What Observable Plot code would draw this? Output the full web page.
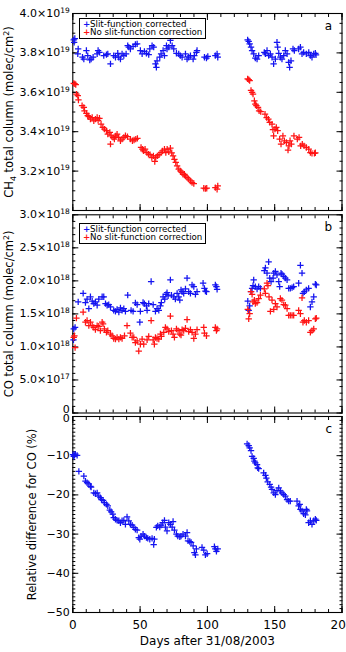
<!DOCTYPE html>
<html><head><meta charset="utf-8">
<script src="https://cdn.jsdelivr.net/npm/d3@7"></script>
<script src="https://cdn.jsdelivr.net/npm/@observablehq/plot@0.6"></script>
<style>
body{margin:0;background:#fff;}
#chart{position:relative;width:346px;height:652px;overflow:hidden;font-family:"DejaVu Sans",sans-serif;background:#fff;}
#chart svg{position:absolute;left:0;overflow:visible;}
.legend{position:absolute;border:1px solid #000;background:#fff;font-size:8.7px;line-height:8.6px;padding:0.5px 2px 1px 3px;white-space:nowrap;color:#000;}
.legend span{display:inline-block;width:7px;font-weight:bold;}
</style></head>
<body><div id="chart"></div>
<script>
// ---------- data ----------
const seriesNames = ["Slit-function corrected", "No slit-function correction"];
const xLabel = "Days after 31/08/2003";
const xMajor = [0, 50, 100, 150, 200];
const CH4_UNIT = 1e19, CO_UNIT = 1e18;

// Panel a: CH4 total column (units of 1e19 molec/cm2)
const ch4CorrDays = [0.7,1.5,1.0,3.7,4.0,7.2,8.2,10.1,11.1,12.6,13.6,15.1,18.1,18.8,19.8,23.0,25.0,26.0,28.0,30.4,31.7,33.4,34.1,35.4,36.6,37.9,39.6,40.8,41.6,42.8,44.8,46.5,47.8,50.2,51.5,53.2,54.7,56.4,57.2,58.9,60.1,61.4,62.1,62.6,64.6,65.6,67.1,68.1,69.6,70.0,71.3,72.5,73.8,75.0,77.0,78.7,79.9,81.2,83.7,84.9,86.1,87.4,89.4,90.3,91.8,92.3,97.8,99.3,100.3,105.9,107.2,107.7,
 129.9,130.7,131.4,132.4,133.2,134.4,135.6,136.9,138.1,142.3,143.1,144.3,145.5,146.8,148.0,149.2,150.5,151.7,152.2,153.0,154.2,155.4,156.7,157.9,159.2,160.4,161.1,162.1,163.6,164.6,167.8,169.1,170.3,171.5,173.5,175.3,176.5,177.7,179.0,180.2,180.7];
const ch4CorrValues = [3.866,3.873,3.854,3.795,3.82,3.778,3.769,3.812,3.786,3.764,3.769,3.778,3.795,3.812,3.803,3.786,3.791,3.795,3.744,3.786,3.778,3.798,3.778,3.769,3.795,3.786,3.795,3.837,3.829,3.820,3.833,3.843,3.846,3.812,3.795,3.808,3.798,3.791,3.82,3.837,3.829,3.744,3.727,3.76,3.778,3.795,3.812,3.786,3.837,3.82,3.829,3.863,3.837,3.82,3.798,3.795,3.786,3.778,3.795,3.769,3.778,3.786,3.769,3.786,3.803,3.812,3.778,3.774,3.782,3.786,3.795,3.778,
 3.866,3.858,3.846,3.829,3.812,3.795,3.774,3.769,3.786,3.803,3.795,3.812,3.786,3.795,3.778,3.744,3.769,3.854,3.829,3.798,3.778,3.769,3.786,3.812,3.795,3.752,3.727,3.76,3.82,3.812,3.82,3.829,3.795,3.803,3.795,3.803,3.786,3.778,3.795,3.798,3.79];
const ch4NoCorrDays = [0.7,1.5,2.2,2.7,3.7,4.2,6.9,8.2,8.7,10.1,11.1,11.9,13.1,14.4,15.6,16.8,18.1,18.8,19.8,21.0,22.3,23.5,25.0,26.0,27.5,28.0,28.5,29.9,30.9,31.9,32.9,34.1,35.4,36.6,37.9,39.1,40.6,42.8,44.3,45.5,46.8,48.0,50.7,51.7,52.5,53.7,55.0,56.2,57.4,58.7,59.9,60.9,61.6,62.8,64.1,65.6,66.6,68.1,69.1,70.1,71.3,72.5,73.5,74.5,75.5,76.5,77.5,78.7,79.9,81.0,81.9,82.9,83.7,84.9,86.1,87.4,88.6,89.9,97.3,98.5,99.5,105.9,107.2,107.7,
 129.9,130.7,131.4,132.4,133.2,133.9,134.9,135.6,136.4,137.6,138.4,139.6,142.8,144.0,145.3,146.3,148.0,148.7,149.2,150.2,151.2,152.2,153.7,154.7,156.1,157.2,158.7,159.9,160.6,161.4,162.4,164.3,166.8,168.1,169.3,170.5,171.8,173.5,175.3,176.5,177.7,179.5,180.2];
const ch4NoCorrValues = [3.645,3.643,3.639,3.591,3.583,3.561,3.532,3.523,3.506,3.493,3.481,3.476,3.464,3.472,3.455,3.464,3.472,3.458,3.468,3.438,3.422,3.413,3.405,3.388,3.396,3.337,3.379,3.371,3.362,3.379,3.388,3.371,3.354,3.362,3.371,3.38,3.375,3.362,3.354,3.358,3.362,3.366,3.320,3.311,3.303,3.311,3.294,3.286,3.283,3.269,3.277,3.249,3.269,3.277,3.283,3.294,3.303,3.311,3.294,3.311,3.298,3.316,3.293,3.277,3.260,3.244,3.227,3.210,3.201,3.193,3.184,3.184,3.176,3.167,3.159,3.150,3.142,3.137,3.113,3.111,3.113,3.116,3.108,3.125,
 3.668,3.664,3.659,3.610,3.600,3.591,3.557,3.540,3.532,3.523,3.506,3.502,3.489,3.472,3.464,3.447,3.438,3.410,3.379,3.413,3.422,3.405,3.362,3.337,3.379,3.354,3.345,3.307,3.328,3.354,3.337,3.379,3.362,3.371,3.328,3.337,3.328,3.320,3.311,3.294,3.290,3.290,3.293];

// Panel b: CO total column (units of 1e18 molec/cm2)
const coCorrDays = [0.7,1.7,0.5,4.0,7.7,9.4,10.6,11.9,13.1,14.4,15.6,16.8,18.1,19.3,21.8,23.0,24.3,25.5,26.7,28.0,30.4,31.7,32.9,34.2,35.4,36.6,37.9,39.1,40.8,43.3,44.8,46.5,47.8,49.8,50.2,52.2,53.2,54.7,55.2,56.4,58.2,59.7,61.4,62.6,63.9,65.1,65.8,67.1,68.3,69.3,70.0,70.8,72.5,73.3,75.0,76.2,77.5,78.7,79.5,80.4,81.2,82.4,83.7,84.9,86.1,87.4,88.6,89.9,91.1,92.3,96.8,97.8,98.5,99.3,105.9,106.7,107.2,
 130.0,130.7,131.4,132.4,133.2,133.9,134.4,135.6,136.9,138.1,139.4,142.3,143.1,144.3,145.5,146.3,147.3,148.8,149.3,150.5,151.7,153.0,153.7,154.7,155.4,156.7,157.9,159.2,160.4,161.6,162.9,164.1,167.8,169.1,170.3,171.0,172.0,173.5,175.2,176.5,177.7,179.0,180.2,180.9];
const coCorrValues = [1.272,1.297,1.108,1.682,1.810,1.672,1.723,1.579,1.759,1.692,1.656,1.682,1.631,1.723,1.759,1.759,1.656,1.631,1.641,1.605,1.554,1.538,1.569,1.528,1.590,1.554,1.579,1.538,1.785,1.554,1.538,1.667,1.641,1.374,1.538,1.672,1.656,1.621,1.554,1.656,1.990,1.641,1.538,1.579,1.554,1.621,1.672,1.759,1.723,1.795,1.821,1.774,2.015,1.785,1.759,1.723,1.810,1.759,1.708,1.862,1.836,1.810,1.877,2.041,1.836,1.810,1.938,1.913,1.795,1.836,1.964,1.887,1.846,1.836,1.938,1.913,1.872,
 1.692,1.554,1.621,1.836,1.887,1.928,2.015,1.913,1.877,1.913,1.887,2.154,2.195,2.118,2.287,2.041,1.990,2.041,2.118,2.144,2.092,1.990,1.913,2.118,2.103,2.067,2.041,2.015,1.887,1.887,1.897,1.913,1.964,2.236,2.118,1.810,1.836,1.862,1.887,1.605,1.682,1.759,1.949,1.938];
const coNoCorrDays = [0.7,1.2,1.7,2.7,7.7,9.4,10.6,11.9,13.1,14.4,15.6,16.8,18.1,19.3,20.5,21.8,22.5,23.5,25.0,26.0,28.0,29.2,30.4,31.7,32.9,34.2,35.4,36.6,38.4,40.3,42.8,44.1,45.3,46.5,47.8,49.0,50.2,51.5,52.7,55.2,56.4,58.2,59.7,60.6,61.4,62.6,63.9,65.1,65.8,67.6,68.8,70.0,71.3,72.5,73.3,74.5,75.5,77.0,78.2,79.5,80.4,81.2,82.4,83.7,84.9,86.1,87.4,88.6,89.9,91.1,92.3,97.3,97.8,99.3,105.9,106.7,107.2,
 130.0,130.7,131.4,132.4,133.2,133.9,134.9,135.6,136.9,138.1,139.4,142.3,143.1,144.3,145.0,145.8,146.8,148.0,149.3,150.5,151.7,154.2,155.4,156.7,157.9,159.2,160.4,161.6,162.9,164.1,167.8,169.1,170.3,171.0,172.0,173.5,175.2,176.5,177.7,179.0,180.2,180.9];
const coNoCorrValues = [1.144,1.169,0.990,1.436,1.528,1.374,1.400,1.323,1.374,1.323,1.297,1.262,1.323,1.313,1.246,1.374,1.349,1.272,1.221,1.246,1.195,1.169,1.128,1.118,1.144,1.118,1.144,1.128,1.169,1.323,1.210,1.144,1.144,1.067,1.092,0.938,1.041,1.118,1.041,1.108,1.159,1.400,1.108,1.041,1.144,1.128,1.118,1.195,1.159,1.221,1.297,1.272,1.231,1.467,1.246,1.195,1.144,1.272,1.246,1.195,1.179,1.262,1.246,1.282,1.415,1.231,1.262,1.221,1.128,1.195,1.262,1.297,1.210,1.169,1.297,1.246,1.272,
 1.569,1.426,1.503,1.836,1.795,1.682,1.708,1.656,1.672,1.733,1.785,1.877,1.810,1.964,1.928,1.759,1.538,1.708,1.569,1.656,1.605,1.733,1.708,1.641,1.631,1.579,1.477,1.477,1.477,1.477,1.554,1.503,1.744,1.374,1.400,1.374,1.400,1.221,1.246,1.272,1.426,1.436];

// Panel c: relative difference for CO (%)
const relDays = [0.2,0.7,1.2,1.9,3.2,4.5,8.2,9.4,10.6,11.9,13.1,13.6,15.6,16.8,18.1,19.3,20.5,21.3,22.5,23.5,25.0,26.0,27.5,28.5,29.7,30.4,31.7,32.9,34.2,35.4,36.6,37.9,39.1,40.3,41.6,42.8,44.1,45.3,46.5,47.8,49.0,49.8,50.7,52.2,53.2,54.7,55.7,57.2,58.9,60.1,60.6,62.1,63.1,64.6,65.6,66.8,68.1,68.8,70.0,71.3,72.5,73.8,74.5,75.5,77.0,78.0,79.5,80.4,81.9,83.7,84.9,85.6,86.9,87.9,89.4,90.3,91.1,91.8,96.0,97.3,98.5,99.8,105.2,105.9,106.7,107.7,
 129.5,130.7,131.4,132.4,133.2,134.4,134.9,135.6,136.9,137.4,138.1,141.8,143.1,143.8,144.8,146.3,147.3,148.0,149.3,150.5,151.7,153.0,154.2,155.4,156.7,157.9,159.2,160.4,161.6,166.6,167.8,168.6,169.1,170.3,171.5,172.8,173.5,174.0,175.2,176.5,177.7,179.0,180.2,180.9];
const relValues = [-9.7,-10.2,-9.9,-9.6,-9.9,-14.0,-15.2,-16.5,-16.9,-17.2,-17.8,-18.0,-19.5,-19.7,-19.5,-20.3,-20.7,-21.2,-21.4,-22.0,-22.4,-22.8,-23.9,-24.3,-24.9,-25.8,-26.2,-26.5,-26.6,-27.1,-26.6,-26.5,-27.5,-25.6,-26.6,-27.5,-27.7,-28.3,-28.8,-29.0,-30.9,-31.3,-30.5,-30.0,-30.5,-30.9,-31.1,-31.3,-31.1,-32.7,-31.3,-28.3,-27.9,-28.2,-27.7,-27.1,-26.5,-28.2,-29.2,-27.1,-27.5,-28.2,-26.8,-29.0,-30.0,-30.5,-30.7,-30.5,-30.0,-30.5,-29.6,-31.7,-31.9,-32.1,-33.0,-34.7,-35.3,-33.8,-33.4,-34.1,-35.3,-35.0,-33.2,-33.8,-34.4,-33.8,
 -7.0,-7.4,-8.0,-8.7,-10.2,-10.7,-11.4,-11.8,-12.3,-13.1,-13.3,-14.4,-15.0,-15.7,-16.7,-17.3,-18.0,-18.6,-19.5,-19.9,-18.9,-18.2,-19.0,-19.5,-19.9,-20.3,-21.2,-21.6,-21.6,-21.6,-22.8,-22.4,-23.7,-24.1,-24.8,-25.1,-23.7,-24.1,-27.1,-26.6,-27.5,-26.6,-26.2,-26.5];

// ---------- helpers ----------
const BLUE = "#1414f0", RED = "#ff1414";
const FONT = "DejaVu Sans, sans-serif";
const table = (days, vals, unit = 1) => days.map((d, i) => ({day: d, value: vals[i] * unit}));
const range = (a, b, s) => d3.range(Math.round((b - a) / s) + 1).map(i => +(a + i * s).toPrecision(10));
const xMinor = range(0, 200, 10);

function sciFormat(v) {
  if (v === 0) return "0";
  const e = Math.floor(Math.log10(Math.abs(v)) + 1e-9);
  return (v / Math.pow(10, e)).toFixed(1) + "×10^{" + e + "}";
}
const minusFormat = v => (v < 0 ? "\u2212" + (-v) : String(v));

// replace ^{..} / _{..} markup with tspans (real text)
function scripts(svg) {
  d3.select(svg).selectAll("text").each(function () {
    const t = this.textContent;
    if (!/[\^_]\{/.test(t)) return;
    const parts = t.split(/(\^\{[^}]*\}|_\{[^}]*\})/).filter(s => s.length);
    const sel = d3.select(this);
    sel.selectAll("*").remove();
    this.textContent = "";
    let shift = 0;
    for (const p of parts) {
      const ts = sel.append("tspan");
      if (p.startsWith("^{")) {
        ts.text(p.slice(2, -1)).attr("font-size", "0.68em").attr("dy", -4.2 - shift);
        shift = -4.2;
      } else if (p.startsWith("_{")) {
        ts.text(p.slice(2, -1)).attr("font-size", "0.68em").attr("dy", 2.6 - shift);
        shift = 2.6;
      } else {
        ts.text(p);
        if (shift) ts.attr("dy", -shift);
        shift = 0;
      }
    }
  });
}

function panel(o) {
  const yMaj = range(o.yDomain[0], o.yDomain[1], o.yStep);
  const yMin = range(o.yDomain[0], o.yDomain[1], o.yMinorStep);
  const tickMarks = (scale, anchor, ticks, size) =>
    (scale === "x" ? Plot.axisX : Plot.axisY)({anchor, ticks, tickSize: -size, tickFormat: () => "", label: null, stroke: "#000", strokeWidth: 1});
  const marks = [
    Plot.frame({stroke: "#000", strokeWidth: 1.1}),
    tickMarks("x", "bottom", xMinor, 3), tickMarks("x", "bottom", xMajor, 6),
    tickMarks("x", "top", xMinor, 3), tickMarks("x", "top", xMajor, 6),
    tickMarks("y", "left", yMin, 3), tickMarks("y", "left", yMaj, 6),
    tickMarks("y", "right", yMin, 3), tickMarks("y", "right", yMaj, 6),
    Plot.axisY({anchor: "left", ticks: o.yLabelTicks, tickSize: 0, tickPadding: 3, tickFormat: o.yFormat,
      fontSize: 11, label: null, ariaLabel: "y-tick-labels"}),
    Plot.axisY({anchor: "left", ticks: [], tickSize: 0, fontSize: 11.5,
      label: o.yTitle, labelAnchor: "center", labelOffset: o.labelOffset, labelArrow: "none"}),
    Plot.text([o.letter], {text: d => d, frameAnchor: "top-right", dx: -10, dy: 8, fontSize: 12})
  ];
  if (o.xLabels) {
    marks.push(Plot.axisX({anchor: "bottom", ticks: xMajor, tickSize: 0, tickPadding: 8, fontSize: 12,
      tickFormat: d => String(d), label: xLabel, labelAnchor: "center", labelOffset: 32, labelArrow: "none"}));
  }
  for (const s of o.series) {
    marks.push(Plot.dot(s.data, {x: "day", y: "value", symbol: "plus", r: 2.2, stroke: s.color, strokeWidth: 1.25}));
  }
  const svg = Plot.plot({
    width: 346, height: o.height,
    marginLeft: 72.3, marginRight: 4.5, marginTop: o.marginTop, marginBottom: o.marginBottom,
    x: {domain: [0, 200]},
    y: {domain: o.yDomain},
    style: {fontFamily: FONT, fontSize: "11px", background: "transparent", overflow: "visible", color: "#000"},
    marks
  });
  svg.style.top = o.top + "px";
  scripts(svg);
  if (o.zeroShift) {
    // nudge the y-axis "0" label (as in the reference, where two zeros sit close together)
    d3.select(svg).selectAll("text").filter(function () {
      return this.textContent === "0" && this.closest("g[text-anchor='end']");
    }).each(function () {
      const tr = this.getAttribute("transform") || "";
      this.setAttribute("transform", tr + ` translate(0,${o.zeroShift})`);
    });
  }
  return svg;
}

const chart = document.getElementById("chart");

chart.appendChild(panel({
  top: 0, height: 212, marginTop: 13, marginBottom: 2,
  yDomain: [3.0e19, 4.0e19], yStep: 0.2e19, yMinorStep: 0.05e19,
  yLabelTicks: [3.2e19, 3.4e19, 3.6e19, 3.8e19, 4.0e19], yFormat: sciFormat,
  yTitle: "CH_{4} total column (molec/cm^{2})", labelOffset: 68, letter: "a",
  series: [
    {data: table(ch4CorrDays, ch4CorrValues, CH4_UNIT), color: BLUE},
    {data: table(ch4NoCorrDays, ch4NoCorrValues, CH4_UNIT), color: RED}
  ]
}));

chart.appendChild(panel({
  top: 212, height: 202, marginTop: 2.3, marginBottom: 1.5, zeroShift: -4,
  yDomain: [0, 3.0e18], yStep: 0.5e18, yMinorStep: 0.1e18,
  yLabelTicks: range(0, 3.0e18, 0.5e18), yFormat: sciFormat,
  yTitle: "CO total column (molec/cm^{2})", labelOffset: 68, letter: "b",
  series: [
    {data: table(coCorrDays, coCorrValues, CO_UNIT), color: BLUE},
    {data: table(coNoCorrDays, coNoCorrValues, CO_UNIT), color: RED}
  ]
}));

chart.appendChild(panel({
  top: 414, height: 238, marginTop: 2, marginBottom: 40, zeroShift: 1.5,
  yDomain: [-50, 0], yStep: 10, yMinorStep: 1,
  yLabelTicks: range(-50, 0, 10), yFormat: minusFormat,
  yTitle: "Relative difference for CO (%)", labelOffset: 45, letter: "c", xLabels: true,
  series: [{data: table(relDays, relValues), color: BLUE}]
}));

// legends (HTML, above the plots)
function legend(top) {
  const div = document.createElement("div");
  div.className = "legend";
  div.style.left = "79px";
  div.style.top = top + "px";
  div.style.width = "120px";
  div.innerHTML = seriesNames.map((n, i) =>
    `<div><span style="color:${i ? RED : BLUE}">+</span>${n}</div>`).join("");
  chart.appendChild(div);
}
legend(18);
legend(223);
</script>
</body></html>
